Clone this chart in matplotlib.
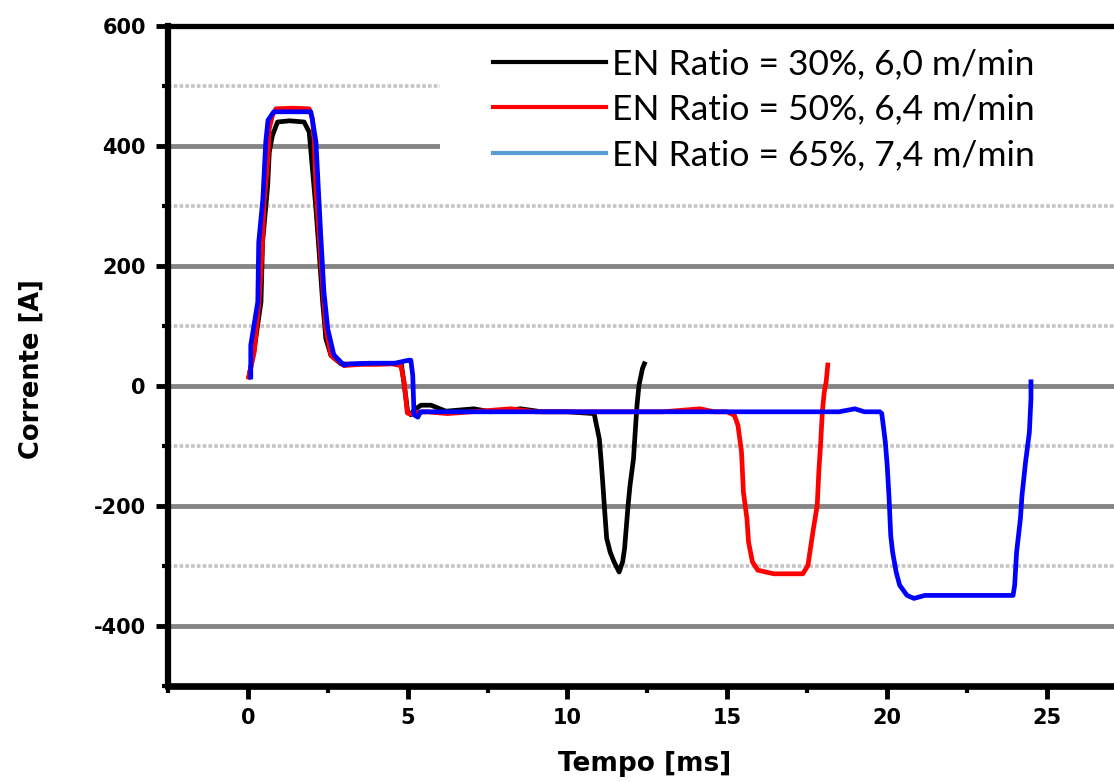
# Corrente x Tempo - CMT pulse shapes for three EN ratios
import matplotlib
matplotlib.use('Agg')
import matplotlib.pyplot as plt
from matplotlib.lines import Line2D
from matplotlib.patches import Rectangle
from matplotlib.ticker import MultipleLocator

plt.rcParams['axes.unicode_minus'] = False

# series (time in ms, current in A)
t_30 = [0.03, 0.2, 0.41, 0.46, 0.62, 0.67, 0.77, 0.93, 1.3, 1.76, 1.92, 2.02, 2.13, 2.23,
        2.34, 2.44, 2.60, 2.91, 3.3, 3.8, 4.3, 4.8, 4.95, 5.0, 5.1, 5.2, 5.42, 5.73, 6.2,
        7.07, 7.6, 8.54, 9.2, 10.0, 10.84, 10.89, 11.0, 11.06, 11.12, 11.17, 11.23, 11.34,
        11.46, 11.62, 11.73, 11.79, 11.85, 11.90, 11.96, 12.07, 12.13, 12.18, 12.24, 12.35, 12.41]
i_30 = [15, 62, 140, 240, 334, 390, 418, 440, 442, 440, 423, 362, 296, 223,
        140, 79, 51, 37, 36, 38, 37, 38, -21, -43, -48, -40, -32, -32, -42,
        -38, -43, -38, -43, -43, -46, -60, -88, -127, -171, -210, -254, -277,
        -293, -310, -293, -271, -232, -199, -166, -121, -71, -32, 1, 29, 37]

t_50 = [0.03, 0.2, 0.35, 0.46, 0.51, 0.62, 0.67, 0.77, 0.88, 1.4, 1.92, 2.02, 2.08, 2.13,
        2.23, 2.34, 2.44, 2.60, 3.01, 3.5, 4.0, 4.5, 4.79, 4.89, 4.99, 5.1, 5.3, 5.6, 6.25,
        7.0, 8.23, 9.0, 10.5, 12.0, 13.0, 14.15, 14.6, 15.0, 15.23, 15.34, 15.45, 15.51, 15.62,
        15.67, 15.79, 15.96, 16.46, 17.37, 17.53, 17.59, 17.70, 17.82, 17.87, 17.93, 17.98,
        18.04, 18.10, 18.15]
i_50 = [15, 57, 140, 240, 307, 373, 429, 451, 462, 463, 462, 446, 407, 329,
        251, 168, 96, 51, 34, 36, 36, 37, 34, 7, -45, -47, -44, -43, -46,
        -43, -38, -43, -43, -43, -43, -38, -43, -43, -49, -66, -110, -177, -221,
        -260, -293, -307, -313, -313, -299, -277, -238, -199, -143, -93, -43,
        -10, 7, 35]

t_65 = [0.09, 0.09, 0.31, 0.34, 0.47, 0.56, 0.63, 0.81, 1.4, 1.97, 2.03, 2.13, 2.19, 2.28,
        2.38, 2.50, 2.69, 3.0, 3.22, 4.0, 4.6, 5.04, 5.1, 5.16, 5.2, 5.32, 5.4, 5.95, 7.0,
        8.5, 10.4, 12.5, 14.5, 16.5, 18.5, 19.0, 19.3, 19.78, 19.84, 19.90, 19.95, 20.01, 20.07,
        20.12, 20.18, 20.29, 20.40, 20.63, 20.85, 21.19, 22.5, 23.95, 24.0, 24.06, 24.18,
        24.23, 24.34, 24.46, 24.51, 24.51]
i_65 = [15, 68, 140, 240, 312, 407, 443, 457, 457, 457, 440, 407, 345, 252,
        157, 95, 52, 35, 37, 38, 38, 43, 43, 18, -48, -52, -43, -43, -43,
        -43, -43, -43, -43, -43, -43, -38, -43, -43, -46, -71, -93, -132, -188,
        -249, -277, -310, -332, -349, -354, -349, -349, -349, -332, -277, -221,
        -182, -127, -77, -21, 7]

labels = ['EN Ratio = 30%, 6,0 m/min',
          'EN Ratio = 50%, 6,4 m/min',
          'EN Ratio = 65%, 7,4 m/min']

W, H = 1114, 782
fig = plt.figure(figsize=(W / 100, H / 100), dpi=100, facecolor='white')
ax = fig.add_axes([168 / W, (H - 686) / H, 958.5 / W, 660 / H])
ax.set_xlim(-2.5, 27.5)
ax.set_ylim(-500, 600)
ax.set_axisbelow(True)

ax.plot(t_30, i_30, color='black', lw=3.4, zorder=3)
ax.plot(t_50, i_50, color='#FF0000', lw=3.4, zorder=4)
ax.plot(t_65, i_65, color='#0000FF', lw=3.4, zorder=5)

# grid
ax.yaxis.set_major_locator(MultipleLocator(200))
ax.yaxis.set_minor_locator(MultipleLocator(100))
ax.xaxis.set_major_locator(MultipleLocator(5))
ax.xaxis.set_minor_locator(MultipleLocator(2.5))
ax.grid(axis='y', which='major', color='#858585', lw=3.5)
ax.grid(axis='y', which='minor', color='#C4C4C4', lw=2.6, ls=(0, (1, 0.6)))

# white block behind the legend hides the grid there
ax.add_patch(Rectangle(((440 - 168) / 958.5, (686 - 190) / 660), 1.0, 0.24,
                       transform=ax.transAxes, facecolor='white', edgecolor='none', zorder=1))

# spines and ticks
ax.spines['right'].set_visible(False)
ax.spines['left'].set_linewidth(4.5)
ax.spines['bottom'].set_linewidth(4.8)
ax.spines['top'].set_linewidth(3.8)
ax.tick_params(which='major', direction='out', length=9, width=3.5, pad=7,
               labelsize=15, labelcolor='black')
ax.tick_params(which='minor', direction='out', length=4.5, width=3)
ax.tick_params(axis='x', which='major', length=9)
ax.tick_params(axis='x', which='minor', length=5)
ax.tick_params(top=False, right=False, which='both')
for lab in ax.get_xticklabels() + ax.get_yticklabels():
    lab.set_fontweight('bold')
    lab.set_family('DejaVu Sans')

ax.set_xlabel('Tempo [ms]', fontsize=19, fontweight='bold')
ax.set_ylabel('Corrente [A]', fontsize=18.5, fontweight='bold')
ax.xaxis.set_label_coords((645 - 168) / 958.5, (686 - 751) / 660)
ax.yaxis.set_label_coords((45 - 168) / 958.5, (686 - 369) / 660)

handles = [Line2D([], [], color='black', lw=3),
           Line2D([], [], color='#FF0000', lw=3),
           Line2D([], [], color='#5B9BD5', lw=3)]
leg = ax.legend(handles, labels, loc='upper left', frameon=False,
                bbox_to_anchor=((493 - 168) / 958.5, (686 - 48) / 660),
                borderpad=0, borderaxespad=0, handlelength=3.2, handletextpad=0.17,
                labelspacing=0.38, prop={'family': 'Lato', 'size': 25.5})
leg.set_zorder(6)

fig.savefig('out.png', dpi=100, facecolor='white')
